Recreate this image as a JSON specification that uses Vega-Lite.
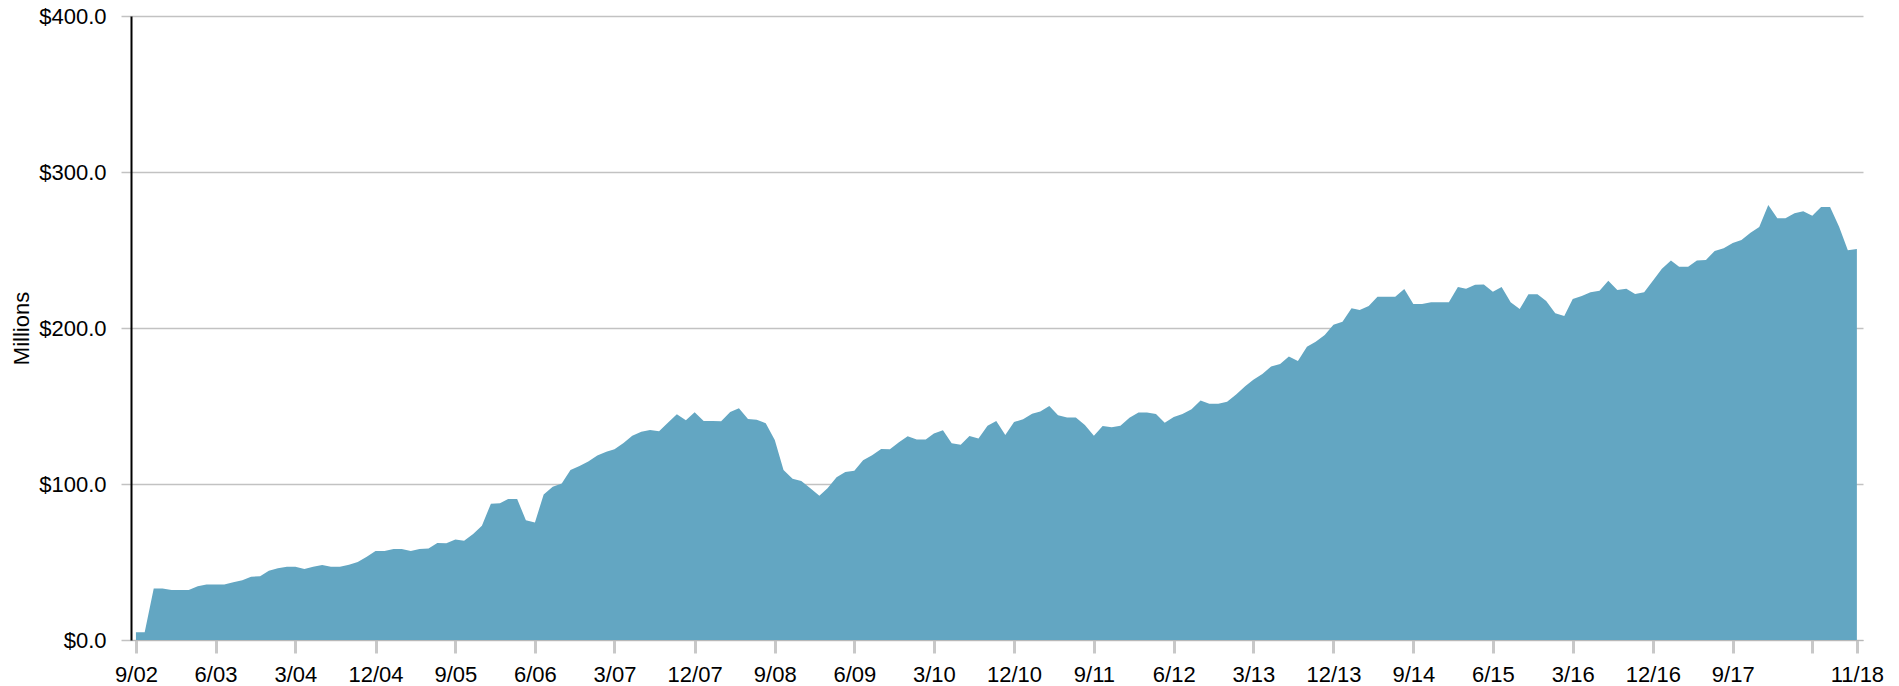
{
  "$schema": "https://vega.github.io/schema/vega-lite/v6.json",
  "width": 1732,
  "height": 624,
  "autosize": {"type": "none"},
  "padding": {"left": 131, "top": 16, "right": 36, "bottom": 46},
  "background": "white",
  "config": {
    "view": {"stroke": null},
    "font": "Liberation Sans Narrow, Arial Narrow, Liberation Sans, Arial, sans-serif"
  },
  "data": {
    "values": [
      {"d": "2002-09-01", "v": 5}, {"d": "2002-10-01", "v": 5}, {"d": "2002-11-01", "v": 33}, {"d": "2002-12-01", "v": 33},
      {"d": "2003-01-01", "v": 32}, {"d": "2003-02-01", "v": 32}, {"d": "2003-03-01", "v": 32}, {"d": "2003-04-01", "v": 34.4},
      {"d": "2003-05-01", "v": 35.5}, {"d": "2003-06-01", "v": 35.5}, {"d": "2003-07-01", "v": 35.5}, {"d": "2003-08-01", "v": 37},
      {"d": "2003-09-01", "v": 38.3}, {"d": "2003-10-01", "v": 40.6}, {"d": "2003-11-01", "v": 40.8}, {"d": "2003-12-01", "v": 44.4},
      {"d": "2004-01-01", "v": 46}, {"d": "2004-02-01", "v": 47}, {"d": "2004-03-01", "v": 47}, {"d": "2004-04-01", "v": 45.5},
      {"d": "2004-05-01", "v": 47}, {"d": "2004-06-01", "v": 48.1}, {"d": "2004-07-01", "v": 47}, {"d": "2004-08-01", "v": 47},
      {"d": "2004-09-01", "v": 48.3}, {"d": "2004-10-01", "v": 50}, {"d": "2004-11-01", "v": 53.4}, {"d": "2004-12-01", "v": 57},
      {"d": "2005-01-01", "v": 57}, {"d": "2005-02-01", "v": 58.3}, {"d": "2005-03-01", "v": 58.3}, {"d": "2005-04-01", "v": 57},
      {"d": "2005-05-01", "v": 58.3}, {"d": "2005-06-01", "v": 58.6}, {"d": "2005-07-01", "v": 62.2}, {"d": "2005-08-01", "v": 62},
      {"d": "2005-09-01", "v": 64.5}, {"d": "2005-10-01", "v": 63.7}, {"d": "2005-11-01", "v": 68}, {"d": "2005-12-01", "v": 73.3},
      {"d": "2006-01-01", "v": 87.4}, {"d": "2006-02-01", "v": 87.7}, {"d": "2006-03-01", "v": 90.4}, {"d": "2006-04-01", "v": 90.4},
      {"d": "2006-05-01", "v": 76.7}, {"d": "2006-06-01", "v": 75.4}, {"d": "2006-07-01", "v": 93.2}, {"d": "2006-08-01", "v": 98.3},
      {"d": "2006-09-01", "v": 100.4}, {"d": "2006-10-01", "v": 109}, {"d": "2006-11-01", "v": 111.5}, {"d": "2006-12-01", "v": 114.5},
      {"d": "2007-01-01", "v": 118.2}, {"d": "2007-02-01", "v": 120.7}, {"d": "2007-03-01", "v": 122.2}, {"d": "2007-04-01", "v": 126.3},
      {"d": "2007-05-01", "v": 131}, {"d": "2007-06-01", "v": 133.5}, {"d": "2007-07-01", "v": 134.6}, {"d": "2007-08-01", "v": 133.8},
      {"d": "2007-09-01", "v": 139.5}, {"d": "2007-10-01", "v": 144.7}, {"d": "2007-11-01", "v": 140.8}, {"d": "2007-12-01", "v": 146},
      {"d": "2008-01-01", "v": 140.4}, {"d": "2008-02-01", "v": 140.4}, {"d": "2008-03-01", "v": 140.2}, {"d": "2008-04-01", "v": 146.2},
      {"d": "2008-05-01", "v": 148.5}, {"d": "2008-06-01", "v": 141.7}, {"d": "2008-07-01", "v": 141.2}, {"d": "2008-08-01", "v": 138.9},
      {"d": "2008-09-01", "v": 128.2}, {"d": "2008-10-01", "v": 109}, {"d": "2008-11-01", "v": 103.4}, {"d": "2008-12-01", "v": 101.9},
      {"d": "2009-01-01", "v": 97.2}, {"d": "2009-02-01", "v": 92.5}, {"d": "2009-03-01", "v": 97.2}, {"d": "2009-04-01", "v": 104.3},
      {"d": "2009-05-01", "v": 107.7}, {"d": "2009-06-01", "v": 108.5}, {"d": "2009-07-01", "v": 115.2}, {"d": "2009-08-01", "v": 118.4},
      {"d": "2009-09-01", "v": 122.4}, {"d": "2009-10-01", "v": 122.2}, {"d": "2009-11-01", "v": 126.7}, {"d": "2009-12-01", "v": 130.6},
      {"d": "2010-01-01", "v": 128.6}, {"d": "2010-02-01", "v": 128.6}, {"d": "2010-03-01", "v": 132.3}, {"d": "2010-04-01", "v": 134.4},
      {"d": "2010-05-01", "v": 126.1}, {"d": "2010-06-01", "v": 125.2}, {"d": "2010-07-01", "v": 130.8}, {"d": "2010-08-01", "v": 129.1},
      {"d": "2010-09-01", "v": 137.4}, {"d": "2010-10-01", "v": 140.4}, {"d": "2010-11-01", "v": 131.4}, {"d": "2010-12-01", "v": 139.7},
      {"d": "2011-01-01", "v": 141.5}, {"d": "2011-02-01", "v": 145.1}, {"d": "2011-03-01", "v": 146.4}, {"d": "2011-04-01", "v": 150},
      {"d": "2011-05-01", "v": 144}, {"d": "2011-06-01", "v": 142.7}, {"d": "2011-07-01", "v": 142.7}, {"d": "2011-08-01", "v": 137.8},
      {"d": "2011-09-01", "v": 131}, {"d": "2011-10-01", "v": 137.2}, {"d": "2011-11-01", "v": 136.3}, {"d": "2011-12-01", "v": 137.4},
      {"d": "2012-01-01", "v": 142.5}, {"d": "2012-02-01", "v": 145.9}, {"d": "2012-03-01", "v": 145.9}, {"d": "2012-04-01", "v": 144.9},
      {"d": "2012-05-01", "v": 139.3}, {"d": "2012-06-01", "v": 142.9}, {"d": "2012-07-01", "v": 144.9}, {"d": "2012-08-01", "v": 147.9},
      {"d": "2012-09-01", "v": 153.6}, {"d": "2012-10-01", "v": 151.5}, {"d": "2012-11-01", "v": 151.5}, {"d": "2012-12-01", "v": 152.8},
      {"d": "2013-01-01", "v": 157.3}, {"d": "2013-02-01", "v": 162.6}, {"d": "2013-03-01", "v": 166.9}, {"d": "2013-04-01", "v": 170.5},
      {"d": "2013-05-01", "v": 175.4}, {"d": "2013-06-01", "v": 176.9}, {"d": "2013-07-01", "v": 181.8}, {"d": "2013-08-01", "v": 178.8},
      {"d": "2013-09-01", "v": 188}, {"d": "2013-10-01", "v": 191.2}, {"d": "2013-11-01", "v": 195.5}, {"d": "2013-12-01", "v": 202.1},
      {"d": "2014-01-01", "v": 204}, {"d": "2014-02-01", "v": 212.6}, {"d": "2014-03-01", "v": 211.5}, {"d": "2014-04-01", "v": 214.1},
      {"d": "2014-05-01", "v": 220.1}, {"d": "2014-06-01", "v": 220.1}, {"d": "2014-07-01", "v": 220.1}, {"d": "2014-08-01", "v": 225},
      {"d": "2014-09-01", "v": 215.4}, {"d": "2014-10-01", "v": 215.4}, {"d": "2014-11-01", "v": 216.5}, {"d": "2014-12-01", "v": 216.5},
      {"d": "2015-01-01", "v": 216.5}, {"d": "2015-02-01", "v": 226.3}, {"d": "2015-03-01", "v": 225.2}, {"d": "2015-04-01", "v": 227.8},
      {"d": "2015-05-01", "v": 227.9}, {"d": "2015-06-01", "v": 223.3}, {"d": "2015-07-01", "v": 226.3}, {"d": "2015-08-01", "v": 216.5},
      {"d": "2015-09-01", "v": 212.2}, {"d": "2015-10-01", "v": 221.6}, {"d": "2015-11-01", "v": 221.6}, {"d": "2015-12-01", "v": 217.3},
      {"d": "2016-01-01", "v": 209.4}, {"d": "2016-02-01", "v": 207.7}, {"d": "2016-03-01", "v": 218.6}, {"d": "2016-04-01", "v": 220.5},
      {"d": "2016-05-01", "v": 222.9}, {"d": "2016-06-01", "v": 223.8}, {"d": "2016-07-01", "v": 230.3}, {"d": "2016-08-01", "v": 224.4},
      {"d": "2016-09-01", "v": 225.2}, {"d": "2016-10-01", "v": 221.8}, {"d": "2016-11-01", "v": 222.9}, {"d": "2016-12-01", "v": 230.3},
      {"d": "2017-01-01", "v": 238}, {"d": "2017-02-01", "v": 243.2}, {"d": "2017-03-01", "v": 239.3}, {"d": "2017-04-01", "v": 239.3},
      {"d": "2017-05-01", "v": 243.2}, {"d": "2017-06-01", "v": 243.6}, {"d": "2017-07-01", "v": 249.4}, {"d": "2017-08-01", "v": 251.1},
      {"d": "2017-09-01", "v": 254.5}, {"d": "2017-10-01", "v": 256.4}, {"d": "2017-11-01", "v": 261.1}, {"d": "2017-12-01", "v": 264.7},
      {"d": "2018-01-01", "v": 278.8}, {"d": "2018-02-01", "v": 270.3}, {"d": "2018-03-01", "v": 270.3}, {"d": "2018-04-01", "v": 273.5},
      {"d": "2018-05-01", "v": 274.8}, {"d": "2018-06-01", "v": 272}, {"d": "2018-07-01", "v": 277.6}, {"d": "2018-08-01", "v": 277.6},
      {"d": "2018-09-01", "v": 264.9}, {"d": "2018-10-01", "v": 249.8}, {"d": "2018-11-01", "v": 250.6}
    ]
  },
  "mark": {"type": "area", "color": "#63a6c2", "interpolate": "linear"},
  "encoding": {
    "x": {
      "field": "d",
      "type": "temporal",
      "scale": {
        "type": "utc",
        "domain": [
          {"year": 2002, "month": 8, "date": 15, "utc": true},
          {"year": 2018, "month": 11, "date": 22, "utc": true}
        ]
      },
      "axis": {
        "title": null,
        "grid": false,
        "values": [
          {"year": 2002, "month": 9, "date": 1, "utc": true},
          {"year": 2003, "month": 6, "date": 1, "utc": true},
          {"year": 2004, "month": 3, "date": 1, "utc": true},
          {"year": 2004, "month": 12, "date": 1, "utc": true},
          {"year": 2005, "month": 9, "date": 1, "utc": true},
          {"year": 2006, "month": 6, "date": 1, "utc": true},
          {"year": 2007, "month": 3, "date": 1, "utc": true},
          {"year": 2007, "month": 12, "date": 1, "utc": true},
          {"year": 2008, "month": 9, "date": 1, "utc": true},
          {"year": 2009, "month": 6, "date": 1, "utc": true},
          {"year": 2010, "month": 3, "date": 1, "utc": true},
          {"year": 2010, "month": 12, "date": 1, "utc": true},
          {"year": 2011, "month": 9, "date": 1, "utc": true},
          {"year": 2012, "month": 6, "date": 1, "utc": true},
          {"year": 2013, "month": 3, "date": 1, "utc": true},
          {"year": 2013, "month": 12, "date": 1, "utc": true},
          {"year": 2014, "month": 9, "date": 1, "utc": true},
          {"year": 2015, "month": 6, "date": 1, "utc": true},
          {"year": 2016, "month": 3, "date": 1, "utc": true},
          {"year": 2016, "month": 12, "date": 1, "utc": true},
          {"year": 2017, "month": 9, "date": 1, "utc": true},
          {"year": 2018, "month": 6, "date": 1, "utc": true},
          {"year": 2018, "month": 11, "date": 1, "utc": true}
        ],
        "format": "%-m/%y",
        "labelExpr": "datum.label == '6/18' ? '' : datum.label",
        "labelFont": "Liberation Sans Narrow, Arial Narrow, Liberation Sans, Arial, sans-serif",
        "labelFontSize": 22,
        "labelColor": "#000000",
        "labelOverlap": false,
        "labelFlush": false,
        "labelBound": false,
        "labelPadding": 11,
        "tickColor": "#c8c8c8",
        "tickWidth": 3,
        "tickSize": 13,
        "domainColor": "#b8b8b8",
        "domainWidth": 1
      }
    },
    "y": {
      "field": "v",
      "type": "quantitative",
      "scale": {"domain": [0, 400], "nice": false, "zero": true},
      "axis": {
        "values": [0, 100, 200, 300, 400],
        "format": "$.1f",
        "grid": true,
        "gridColor": "#c2c2c2",
        "gridWidth": 1.5,
        "tickColor": "#c2c2c2",
        "tickWidth": 1.5,
        "tickSize": 10,
        "domainColor": "#000000",
        "domainWidth": 2,
        "labelFont": "Liberation Sans Narrow, Arial Narrow, Liberation Sans, Arial, sans-serif",
        "labelFontSize": 22,
        "labelColor": "#000000",
        "labelPadding": 15,
        "title": "Millions",
        "titleFont": "Liberation Sans Narrow, Arial Narrow, Liberation Sans, Arial, sans-serif",
        "titleFontSize": 22,
        "titleFontWeight": "normal",
        "titleColor": "#000000",
        "titleAngle": -90,
        "titleX": -110,
        "titleY": 312,
        "titleAlign": "center",
        "titleBaseline": "middle"
      }
    }
  }
}
